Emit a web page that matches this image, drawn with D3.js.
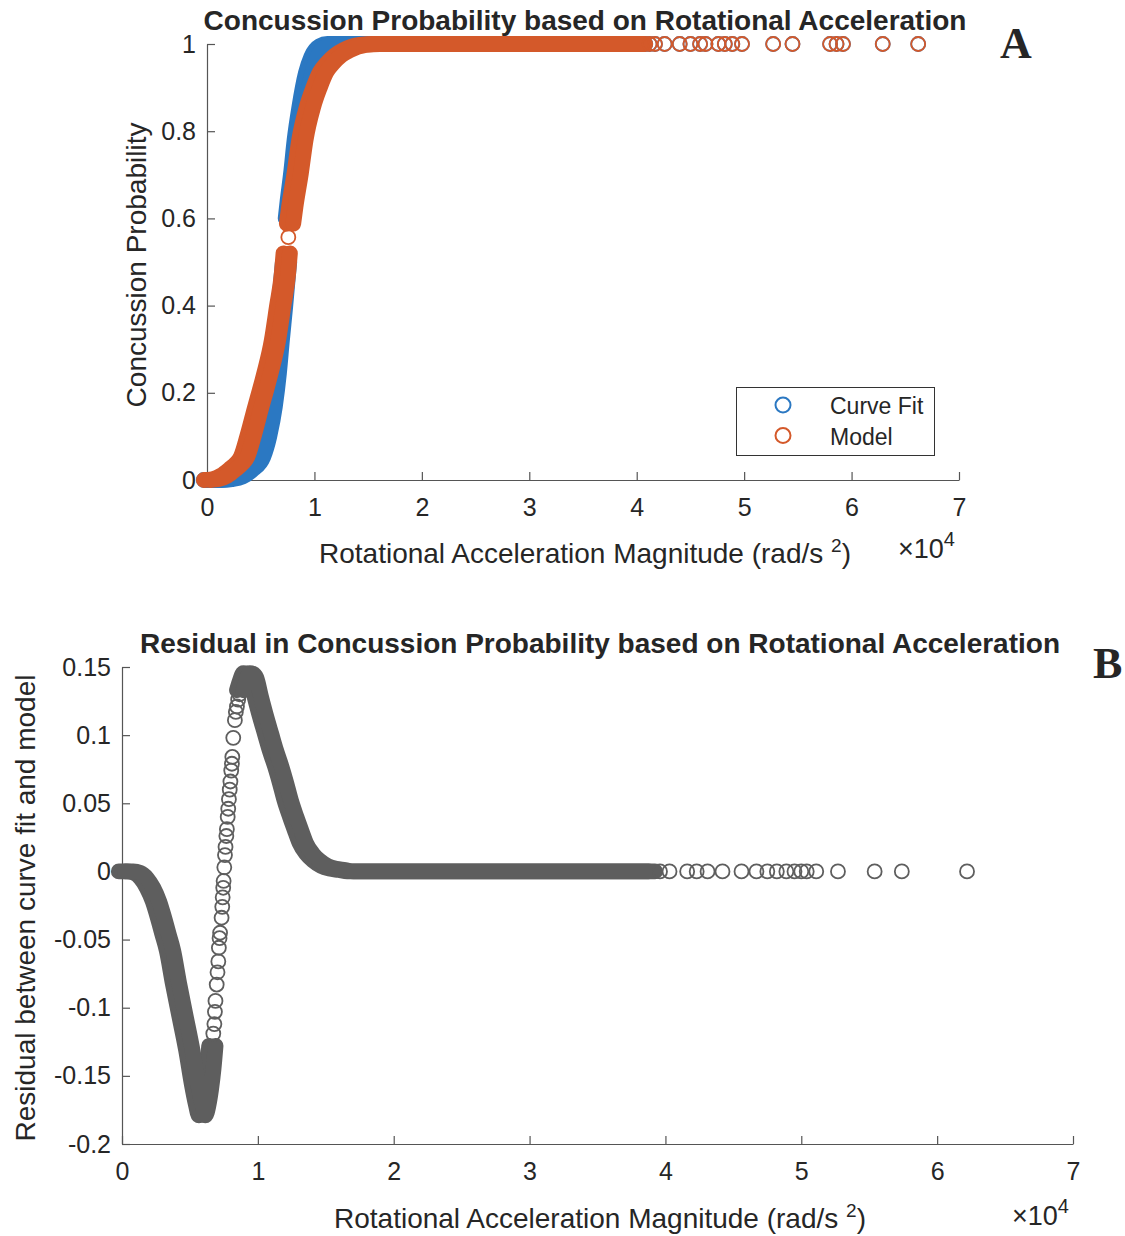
<!DOCTYPE html>
<html>
<head>
<meta charset="utf-8">
<script src="https://cdn.jsdelivr.net/npm/d3@7"></script>
<style>
	body { margin: 0; background: #fff; }
	svg text { font-family: "Liberation Sans", Arial, sans-serif; fill: #262626; }
</style>
</head>
<body>
<svg id="fig" width="1125" height="1236"></svg>
<script>
// acceleration values are in units of 1e4 rad/s^2

// panel A: curve fit, dense part (thin spot near 0.55)
var fitLowAccel = [0, 0.1, 0.2, 0.3, 0.4, 0.493, 0.55, 0.602, 0.64, 0.668, 0.698, 0.726, 0.736];
var fitLowProb = [0, 0, 0.002, 0.008, 0.025, 0.053, 0.1, 0.168, 0.245, 0.321, 0.397, 0.474, 0.5];
var fitHighAccel = [0.762, 0.78, 0.812, 0.845, 0.89, 0.95, 1.0, 1.08, 1.15, 1.4, 2.0, 3.0, 4.05];
var fitHighProb = [0.6, 0.64, 0.703, 0.78, 0.856, 0.933, 0.97, 0.995, 1, 1, 1, 1, 1];

// panel A: model, band below and above the small gap near 0.55
var modelLowAccel = [0, 0.08, 0.16, 0.24, 0.3, 0.345, 0.41, 0.478, 0.52, 0.563, 0.633, 0.68, 0.726, 0.742];
var modelLowProb = [0, 0.002, 0.01, 0.025, 0.038, 0.053, 0.105, 0.168, 0.205, 0.245, 0.321, 0.397, 0.474, 0.52];
var modelHighAccel = [0.773, 0.794, 0.844, 0.888, 0.959, 1.02, 1.08, 1.145, 1.22, 1.3, 1.45, 1.58, 2.0, 3.0, 4.05];
var modelHighProb = [0.588, 0.627, 0.703, 0.78, 0.856, 0.9, 0.935, 0.956, 0.974, 0.986, 0.998, 1, 1, 1, 1];
var modelGapAccel = [0.757];
var modelGapProb = [0.557];

// panel A: single impacts at the high end (both series at 1)
var tailAccelA = [4.12, 4.17, 4.26, 4.40, 4.50, 4.59, 4.64, 4.76, 4.82, 4.89, 4.98, 5.27, 5.45, 5.80, 5.86, 5.92, 6.29, 6.62];
var tailProbA = [1, 1, 1, 1, 1, 1, 1, 1, 1, 1, 1, 1, 1, 1, 1, 1, 1, 1];

// panel B: residual (curve fit - model)
var residDenseAccel1 = [0, 0.06, 0.11, 0.16, 0.206, 0.25, 0.287, 0.32, 0.353, 0.397, 0.447, 0.495, 0.537, 0.565, 0.59, 0.612, 0.632, 0.65, 0.665];
var residDense1 = [0, 0, -0.001, -0.005, -0.012, -0.022, -0.034, -0.046, -0.058, -0.082, -0.107, -0.131, -0.156, -0.17, -0.179, -0.172, -0.16, -0.145, -0.128];
var residRiseAccel = [0.672, 0.68, 0.684, 0.688, 0.697, 0.703, 0.709, 0.713, 0.718, 0.722, 0.733, 0.738, 0.741, 0.745, 0.748, 0.753, 0.758, 0.762, 0.768, 0.772, 0.778, 0.782, 0.787, 0.793, 0.798, 0.804, 0.809, 0.812, 0.819, 0.831, 0.838, 0.846, 0.855, 0.865];
var residRise = [-0.119, -0.112, -0.103, -0.095, -0.083, -0.074, -0.066, -0.056, -0.049, -0.045, -0.034, -0.026, -0.019, -0.012, -0.007, 0.003, 0.012, 0.018, 0.026, 0.031, 0.040, 0.046, 0.053, 0.060, 0.066, 0.074, 0.079, 0.084, 0.098, 0.111, 0.117, 0.121, 0.126, 0.130];
var residDenseAccel2 = [0.87, 0.895, 0.917, 0.94, 0.965, 1.0, 1.04, 1.075, 1.11, 1.15, 1.185, 1.22, 1.26, 1.3, 1.33, 1.38, 1.43, 1.49, 1.55, 1.62, 1.68, 2.0, 2.5, 3.0, 3.5, 3.9];
var residDense2 = [0.133, 0.141, 0.1455, 0.145, 0.142, 0.128, 0.113, 0.101, 0.089, 0.077, 0.065, 0.052, 0.040, 0.029, 0.021, 0.013, 0.008, 0.004, 0.002, 0.001, 0, 0, 0, 0, 0, 0];
var tailAccelB = [3.96, 4.03, 4.16, 4.23, 4.31, 4.42, 4.56, 4.67, 4.75, 4.82, 4.89, 4.95, 5.00, 5.04, 5.11, 5.27, 5.54, 5.74, 6.22];
var tailResidB = [0, 0, 0, 0, 0, 0, 0, 0, 0, 0, 0, 0, 0, 0, 0, 0, 0, 0, 0];

// ticks
var accelTicks = [0, 1, 2, 3, 4, 5, 6, 7];
var probTicks = [0, 0.2, 0.4, 0.6, 0.8, 1];
var probTickLabels = ["0", "0.2", "0.4", "0.6", "0.8", "1"];
var residTicks = [-0.2, -0.15, -0.1, -0.05, 0, 0.05, 0.1, 0.15];
var residTickLabels = ["-0.2", "-0.15", "-0.1", "-0.05", "0", "0.05", "0.1", "0.15"];
var legendLabels = ["Curve Fit", "Model"];

var fitColor = "#2b78c2";
var modelColor = "#d4592a";
var residColor = "#5e5e5e";
var axisColor = "#555";
var ringR = 7, ringW = 1.8;
var bandSpread = 3.2;	// sideways scatter of the markers in px

var svg = d3.select("#fig");

var zip = function(xs, ys){
	return xs.map(function(x, i){ return [x, ys[i]]; });
};

// a run of overlapping markers so dense it reads as a solid band
var drawBand = function(g, xs, ys, xs_scale, ys_scale, color){
	var line = d3.line()
		.x(function(d){ return xs_scale(d[0]); })
		.y(function(d){ return ys_scale(d[1]); })
		.curve(d3.curveMonotoneX);
	var d = line(zip(xs, ys));
	[-bandSpread, bandSpread].forEach(function(dx){
		g.append("path")
			.attr("d", d)
			.attr("transform", "translate(" + dx + ",0)")
			.attr("fill", "none")
			.attr("stroke", color)
			.attr("stroke-width", 2 * ringR + ringW)
			.attr("stroke-linecap", "round")
			.attr("stroke-linejoin", "round");
	});
};

var drawRings = function(g, xs, ys, xs_scale, ys_scale, color){
	g.append("g").selectAll("circle").data(zip(xs, ys)).enter()
		.append("circle")
		.attr("cx", function(d){ return xs_scale(d[0]); })
		.attr("cy", function(d){ return ys_scale(d[1]); })
		.attr("r", ringR)
		.attr("fill", "none")
		.attr("stroke", color)
		.attr("stroke-width", ringW);
};

var drawAxes = function(x, y, yTicks, yLabels){
	var x0 = x.range()[0], y0 = y.range()[0];
	var gx = svg.append("g")
		.attr("transform", "translate(0," + y0 + ")")
		.call(d3.axisBottom(x).tickValues(accelTicks).tickFormat(d3.format("d"))
			.tickSizeInner(-8).tickSizeOuter(0).tickPadding(18));
	var gy = svg.append("g")
		.attr("transform", "translate(" + x0 + ",0)")
		.call(d3.axisLeft(y).tickValues(yTicks)
			.tickFormat(function(d, i){ return yLabels[i]; })
			.tickSizeInner(-8).tickSizeOuter(0).tickPadding(11));
	[gx, gy].forEach(function(g){
		g.selectAll("path, line").attr("stroke", axisColor).attr("stroke-width", 1.2);
		g.selectAll("text").style("font-size", "25px").attr("fill", "#262626");
	});
};

var xLabel = function(cx, baseline, mx, mBaseline){
	var t = svg.append("text")
		.attr("x", cx).attr("y", baseline)
		.attr("text-anchor", "middle")
		.style("font-size", "28px");
	t.append("tspan").text("Rotational Acceleration Magnitude (rad/s ");
	t.append("tspan").attr("dy", -11).style("font-size", "19px").text("2");
	t.append("tspan").attr("dy", 11).text(")");
	var m = svg.append("text")
		.attr("x", mx).attr("y", mBaseline)
		.style("font-size", "27px");
	m.append("tspan").text("\u00d710");
	m.append("tspan").attr("dy", -12).style("font-size", "20px").text("4");
};

var yLabel = function(x, cy, label){
	svg.append("text")
		.attr("transform", "translate(" + x + "," + cy + ") rotate(-90)")
		.attr("text-anchor", "middle")
		.style("font-size", "28px")
		.text(label);
};

var title = function(cx, baseline, label){
	svg.append("text")
		.attr("x", cx).attr("y", baseline)
		.attr("text-anchor", "middle")
		.style("font-size", "28px").style("font-weight", "bold")
		.attr("fill", "#000")
		.text(label);
};

var panelLetter = function(x, baseline, label){
	svg.append("text")
		.attr("x", x).attr("y", baseline)
		.style("font-family", "'Liberation Serif', 'Times New Roman', serif")
		.style("font-size", "44px").style("font-weight", "bold")
		.attr("fill", "#000")
		.text(label);
};

// ---------- panel A ----------
var xA = d3.scaleLinear().domain([0, 7]).range([207, 959]);
var yA = d3.scaleLinear().domain([0, 1]).range([480, 44]);
drawAxes(xA, yA, probTicks, probTickLabels);

var gA = svg.append("g");
drawBand(gA, fitLowAccel, fitLowProb, xA, yA, fitColor);
drawBand(gA, fitHighAccel, fitHighProb, xA, yA, fitColor);
drawRings(gA, tailAccelA, tailProbA, xA, yA, fitColor);
drawBand(gA, modelLowAccel, modelLowProb, xA, yA, modelColor);
drawBand(gA, modelHighAccel, modelHighProb, xA, yA, modelColor);
drawRings(gA, modelGapAccel, modelGapProb, xA, yA, modelColor);
drawRings(gA, tailAccelA, tailProbA, xA, yA, modelColor);

title(585, 30, "Concussion Probability based on Rotational Acceleration");
xLabel(585, 563, 898, 558);
yLabel(146, 265, "Concussion Probability");
panelLetter(1000, 58, "A");

// legend
var legend = svg.append("g");
legend.append("rect")
	.attr("x", 736.5).attr("y", 387.5).attr("width", 198).attr("height", 68)
	.attr("fill", "#fff").attr("stroke", "#333").attr("stroke-width", 1);
[fitColor, modelColor].forEach(function(c, i){
	legend.append("circle")
		.attr("cx", 783).attr("cy", 405 + i * 30.5).attr("r", 7.5)
		.attr("fill", "none").attr("stroke", c).attr("stroke-width", 2);
	legend.append("text")
		.attr("x", 830).attr("y", 414 + i * 30.5)
		.style("font-size", "23px")
		.attr("fill", "#000")
		.text(legendLabels[i]);
});

// ---------- panel B ----------
var xB = d3.scaleLinear().domain([0, 7]).range([122, 1073]);
var yB = d3.scaleLinear().domain([-0.2, 0.15]).range([1144, 667]);
drawAxes(xB, yB, residTicks, residTickLabels);

var gB = svg.append("g");
drawBand(gB, residDenseAccel1, residDense1, xB, yB, residColor);
drawRings(gB, residRiseAccel, residRise, xB, yB, residColor);
drawBand(gB, residDenseAccel2, residDense2, xB, yB, residColor);
drawRings(gB, tailAccelB, tailResidB, xB, yB, residColor);

title(600, 653, "Residual in Concussion Probability based on Rotational Acceleration");
xLabel(600, 1228, 1012, 1225);
yLabel(35, 908, "Residual between curve fit and model");
panelLetter(1093, 678, "B");
</script>
</body>
</html>
